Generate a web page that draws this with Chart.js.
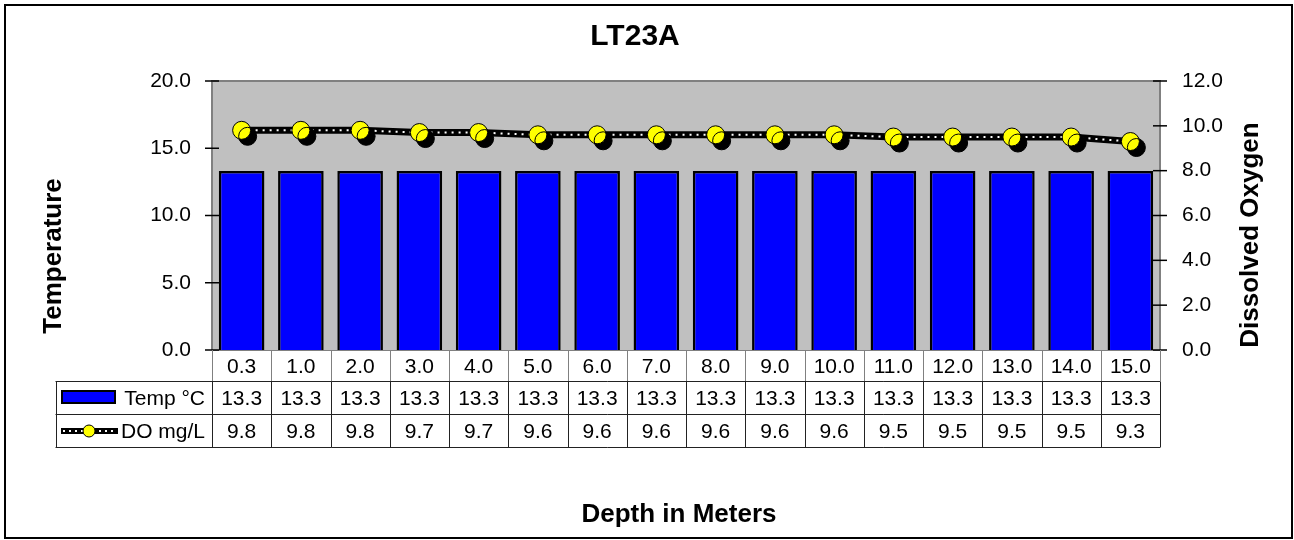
<!DOCTYPE html>
<html>
<head>
<meta charset="utf-8">
<script src="https://cdn.jsdelivr.net/npm/chart.js@4.4.1/dist/chart.umd.min.js"></script>
<style>
  html, body { margin: 0; padding: 0; background: #fff; }
  canvas { display: block; }
</style>
</head>
<body>
<canvas id="chart" width="1294" height="540"></canvas>
<script>
// values
const depths = ["0.3", "1.0", "2.0", "3.0", "4.0", "5.0", "6.0", "7.0", "8.0", "9.0", "10.0", "11.0", "12.0", "13.0", "14.0", "15.0"];
const tempC = [13.3, 13.3, 13.3, 13.3, 13.3, 13.3, 13.3, 13.3, 13.3, 13.3, 13.3, 13.3, 13.3, 13.3, 13.3, 13.3];
const doMgL = [9.8, 9.8, 9.8, 9.7, 9.7, 9.6, 9.6, 9.6, 9.6, 9.6, 9.6, 9.5, 9.5, 9.5, 9.5, 9.3];
const tempTicks = ["0.0", "5.0", "10.0", "15.0", "20.0"];
const doTicks = ["0.0", "2.0", "4.0", "6.0", "8.0", "10.0", "12.0"];
const seriesNames = ["Temp °C", "DO mg/L"];

const FONT = '"Liberation Sans", Arial, sans-serif';

// drop shadow under the yellow markers
const markerShadow = {
  id: "markerShadow",
  beforeDatasetDraw(chart, args) {
    if (args.index !== 3) return;
    const ctx = chart.ctx;
    ctx.save();
    ctx.shadowColor = "#000";
    ctx.shadowOffsetX = 6;
    ctx.shadowOffsetY = 6;
    ctx.shadowBlur = 0;
  },
  afterDatasetDraw(chart, args) {
    if (args.index !== 3) return;
    chart.ctx.restore();
  },
};

// background, axes, the data table and the titles (Excel style)
const excelFrame = {
  id: "excelFrame",
  beforeDraw(chart) {
    const {ctx, chartArea: a} = chart;
    ctx.save();
    ctx.fillStyle = "#fff";
    ctx.fillRect(0, 0, chart.width, chart.height);
    ctx.fillStyle = "#C0C0C0";
    ctx.fillRect(a.left, a.top, a.right - a.left, a.bottom - a.top);
    ctx.restore();
  },
  afterDraw(chart) {
    const {ctx, chartArea: a, scales} = chart;
    const x = scales.x, yT = scales.y, yD = scales.y1;
    ctx.save();

    // plot frame
    ctx.strokeStyle = "#808080";
    ctx.lineWidth = 2;
    ctx.beginPath();
    ctx.moveTo(a.left, a.bottom);
    ctx.lineTo(a.left, a.top);
    ctx.lineTo(a.right, a.top);
    ctx.lineTo(a.right, a.bottom);
    ctx.stroke();
    ctx.lineWidth = 1;
    ctx.beginPath();
    ctx.moveTo(a.left, a.bottom + 0.5);
    ctx.lineTo(a.right, a.bottom + 0.5);
    ctx.stroke();

    // tick marks + labels
    ctx.strokeStyle = "#000";
    ctx.lineWidth = 1.5;
    ctx.fillStyle = "#000";
    ctx.font = "21px " + FONT;
    ctx.textBaseline = "middle";
    tempTicks.forEach((t) => {
      const py = yT.getPixelForValue(parseFloat(t));
      ctx.beginPath();
      ctx.moveTo(a.left - 7, py);
      ctx.lineTo(a.left + 7, py);
      ctx.stroke();
      ctx.textAlign = "right";
      ctx.fillText(t, a.left - 21, py);
    });
    doTicks.forEach((t) => {
      const py = yD.getPixelForValue(parseFloat(t));
      ctx.beginPath();
      ctx.moveTo(a.right - 7, py);
      ctx.lineTo(a.right + 7, py);
      ctx.stroke();
      ctx.textAlign = "left";
      ctx.fillText(t, a.right + 22, py);
    });

    // data table
    const half = (x.getPixelForValue(1) - x.getPixelForValue(0)) / 2;
    const r0 = a.bottom, r1 = 381.5, r2 = 414.5, r3 = 447.5, tl = 55.5;
    const edges = depths.map((d, i) => x.getPixelForValue(i) - half);
    edges.push(a.right);

    ctx.lineWidth = 1;
    ctx.strokeStyle = "#808080";
    edges.forEach((ex) => {
      ctx.beginPath();
      ctx.moveTo(Math.round(ex) + 0.5, r0);
      ctx.lineTo(Math.round(ex) + 0.5, r1);
      ctx.stroke();
    });
    ctx.strokeStyle = "#222";
    [r1, r2, r3].forEach((ry) => {
      ctx.beginPath();
      ctx.moveTo(tl, ry);
      ctx.lineTo(a.right, ry);
      ctx.stroke();
    });
    [tl].concat(edges).forEach((ex) => {
      ctx.beginPath();
      ctx.moveTo(Math.round(ex) + 0.5, r1);
      ctx.lineTo(Math.round(ex) + 0.5, r3);
      ctx.stroke();
    });

    ctx.fillStyle = "#000";
    ctx.textAlign = "center";
    depths.forEach((d, i) => {
      const cx = x.getPixelForValue(i);
      ctx.fillText(d, cx, (r0 + r1) / 2 + 1);
      ctx.fillText(tempC[i].toFixed(1), cx, (r1 + r2) / 2 + 1);
      ctx.fillText(doMgL[i].toFixed(1), cx, (r2 + r3) / 2 + 1);
    });
    ctx.textAlign = "right";
    ctx.fillText(seriesNames[0], 205, (r1 + r2) / 2 + 1);
    ctx.fillText(seriesNames[1], 205, (r2 + r3) / 2 + 1);

    // legend keys
    ctx.fillStyle = "#0000FF";
    ctx.fillRect(62, 391, 53, 12);
    ctx.strokeStyle = "#000";
    ctx.lineWidth = 2;
    ctx.strokeRect(62, 391, 53, 12);
    const ky = (r2 + r3) / 2;
    ctx.lineWidth = 6;
    ctx.beginPath();
    ctx.moveTo(61, ky);
    ctx.lineTo(118, ky);
    ctx.stroke();
    ctx.strokeStyle = "#fff";
    ctx.lineWidth = 2;
    ctx.setLineDash([2, 4]);
    ctx.beginPath();
    ctx.moveTo(63, ky);
    ctx.lineTo(117, ky);
    ctx.stroke();
    ctx.setLineDash([]);
    ctx.fillStyle = "#FFFF00";
    ctx.strokeStyle = "#000";
    ctx.lineWidth = 1;
    ctx.beginPath();
    ctx.arc(89, ky, 6, 0, Math.PI * 2);
    ctx.fill();
    ctx.stroke();

    // titles
    ctx.fillStyle = "#000";
    ctx.textAlign = "center";
    ctx.font = "bold 30px " + FONT;
    ctx.fillText("LT23A", 635, 37);
    ctx.font = "bold 26px " + FONT;
    ctx.fillText("Depth in Meters", 679, 515);
    ctx.save();
    ctx.translate(54, 256);
    ctx.rotate(-Math.PI / 2);
    ctx.fillText("Temperature", 0, 0);
    ctx.restore();
    ctx.save();
    ctx.translate(1251, 235);
    ctx.rotate(-Math.PI / 2);
    ctx.fillText("Dissolved Oxygen", 0, 0);
    ctx.restore();

    // outer border
    ctx.strokeStyle = "#000";
    ctx.lineWidth = 2;
    ctx.strokeRect(5, 5, 1287, 533);
    ctx.restore();
  },
};

new Chart(document.getElementById("chart"), {
  type: "bar",
  data: {
    labels: depths,
    datasets: [
      {
        type: "bar",
        label: seriesNames[0],
        data: tempC,
        yAxisID: "y",
        backgroundColor: "#0000FF",
        borderColor: "#000",
        borderWidth: 2.5,
        barPercentage: 0.77,
        categoryPercentage: 1,
        order: 4,
      },
      {
        type: "line",
        label: seriesNames[1],
        data: doMgL,
        yAxisID: "y1",
        borderColor: "#000",
        borderWidth: 7,
        pointRadius: 0,
        tension: 0,
        order: 3,
      },
      {
        type: "line",
        label: "dots",
        data: doMgL,
        yAxisID: "y1",
        borderColor: "#fff",
        borderWidth: 2,
        borderDash: [2, 5],
        pointRadius: 0,
        tension: 0,
        order: 2,
      },
      {
        type: "line",
        label: "markers",
        data: doMgL,
        yAxisID: "y1",
        showLine: false,
        pointRadius: 9,
        pointBackgroundColor: "#FFFF00",
        pointBorderColor: "#000",
        pointBorderWidth: 1,
        order: 1,
      },
    ],
  },
  options: {
    responsive: false,
    animation: false,
    layout: {padding: {left: 212, right: 134, top: 81, bottom: 190}},
    plugins: {
      legend: {display: false},
      title: {display: false},
      tooltip: {enabled: false},
    },
    scales: {
      x: {display: false},
      y: {display: false, position: "left", min: 0, max: 20, ticks: {stepSize: 5}},
      y1: {display: false, position: "right", min: 0, max: 12, ticks: {stepSize: 2}},
    },
  },
  plugins: [markerShadow, excelFrame],
});
</script>
</body>
</html>
